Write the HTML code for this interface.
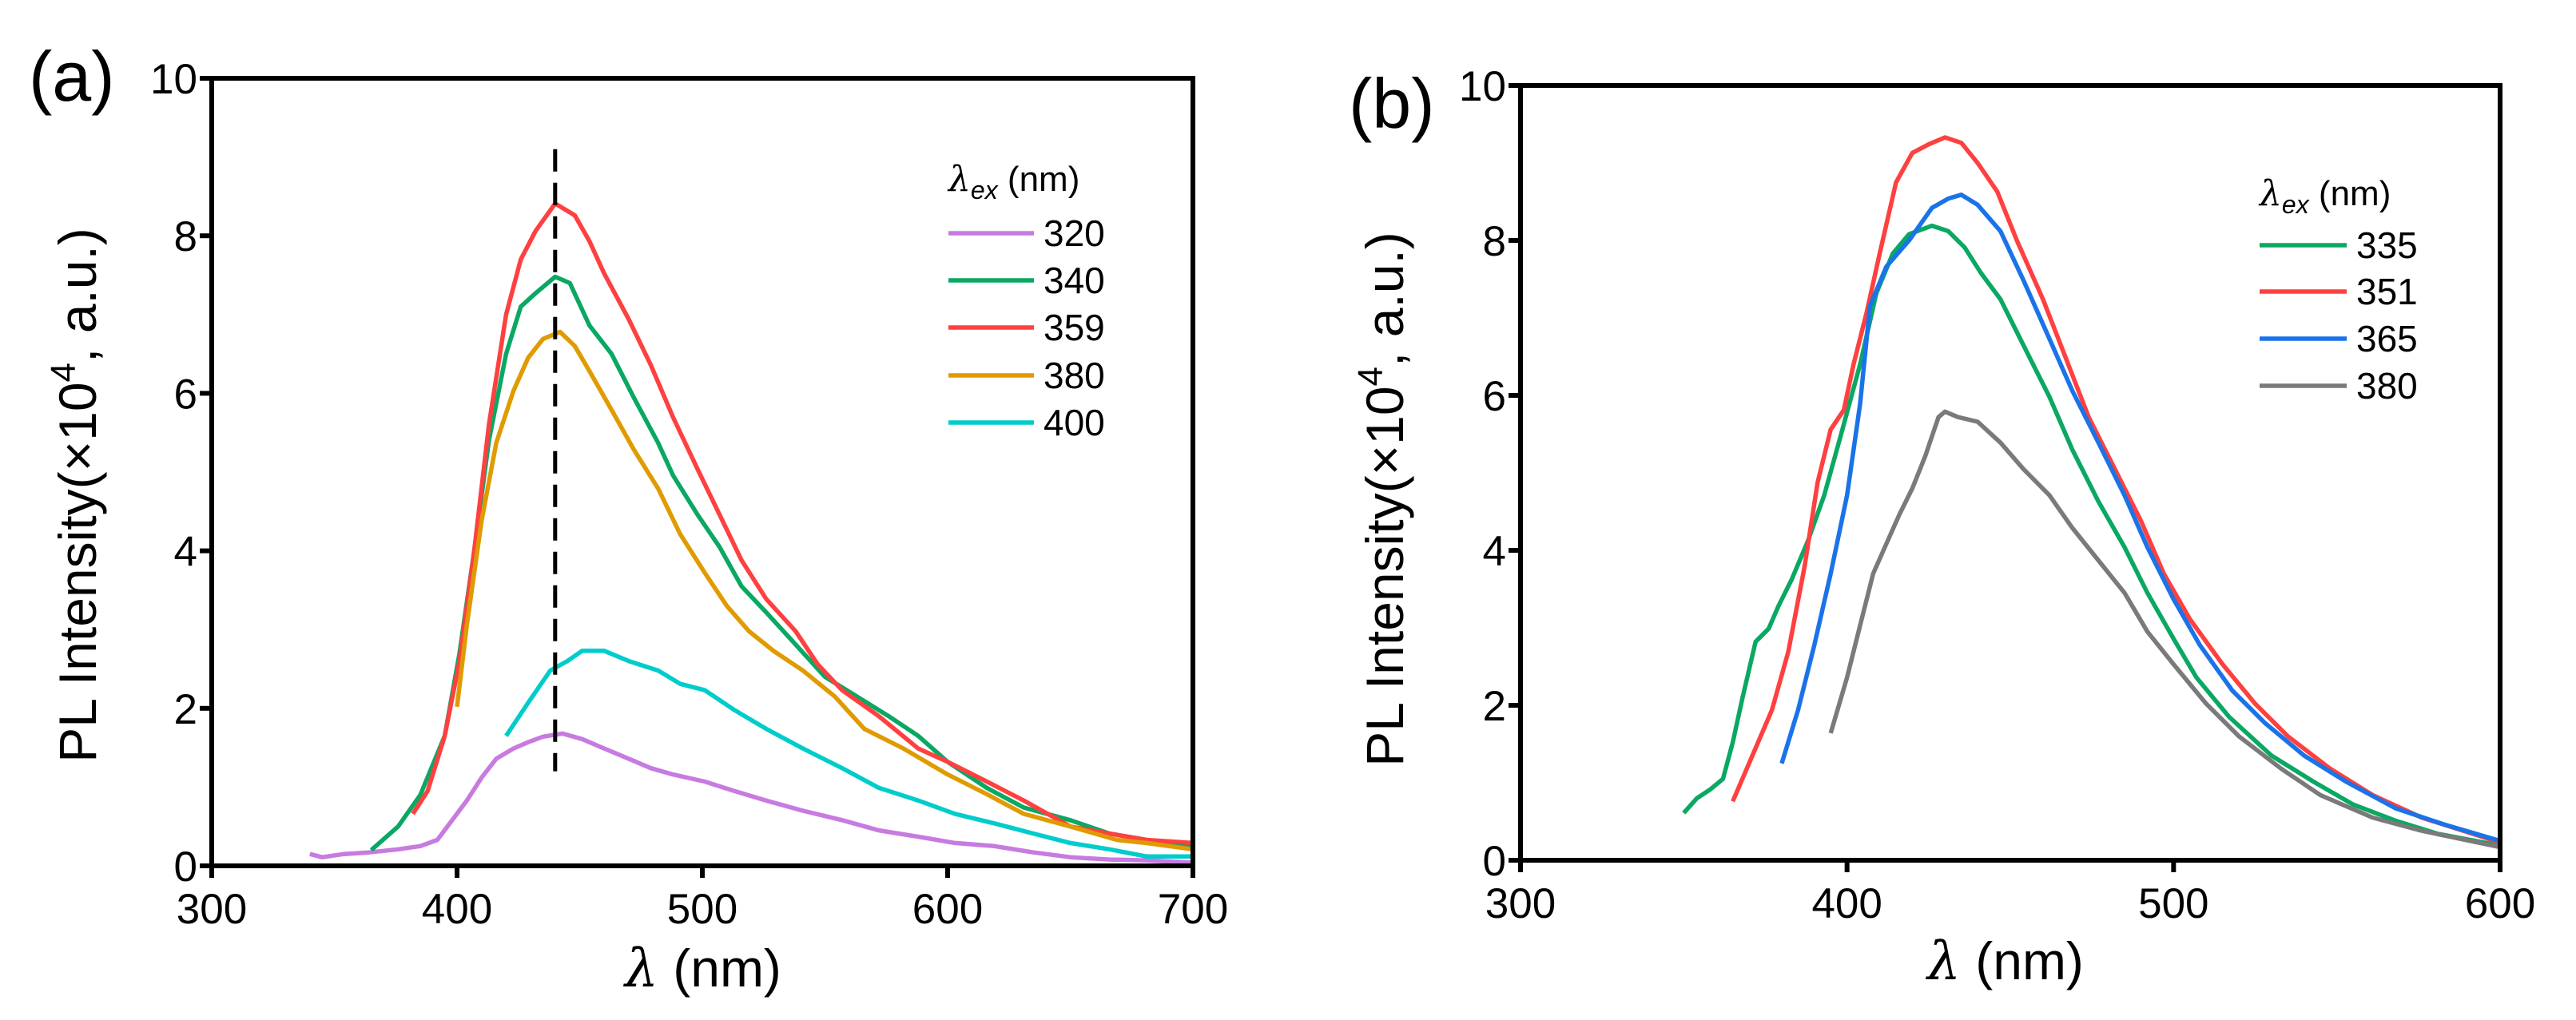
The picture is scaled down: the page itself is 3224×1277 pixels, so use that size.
<!DOCTYPE html>
<html><head><meta charset="utf-8"><style>
body{margin:0;background:#fff}
svg{display:block;font-family:"Liberation Sans",Arial,sans-serif}
</style></head><body>
<svg id="chart" width="3224" height="1277" viewBox="0 0 3224 1277" xmlns="http://www.w3.org/2000/svg"></svg>
<script>
// Panel (a) data
const aX320=[340,345,354,364,376,385,392,398,404,410,416,423,429,435,443,451,460,470,479,488,501,513,526,541,557,572,588,603,619,635,650,666,681,700];
const aY320=[0.15,0.11,0.15,0.17,0.21,0.25,0.33,0.58,0.83,1.12,1.36,1.49,1.57,1.64,1.68,1.61,1.49,1.36,1.24,1.16,1.07,0.95,0.83,0.7,0.58,0.45,0.37,0.29,0.25,0.17,0.11,0.08,0.07,0.04];
const aX340=[365,376,385,395,401,407,413,420,426,432,440,446,454,463,472,482,488,498,507,516,526,538,550,563,576,588,600,616,631,650,666,681,700];
const aY340=[0.2,0.5,0.9,1.65,2.7,4.0,5.4,6.5,7.1,7.27,7.48,7.4,6.86,6.5,5.95,5.37,4.96,4.46,4.05,3.55,3.22,2.81,2.4,2.15,1.9,1.65,1.32,0.99,0.74,0.58,0.41,0.33,0.25];
const aX359=[382,388,395,401,407,413,420,426,432,440,448,454,460,470,479,488,498,507,516,526,538,547,557,572,588,600,616,631,650,666,681,700];
const aY359=[0.66,0.95,1.65,2.6,4.0,5.6,7.0,7.7,8.06,8.41,8.26,7.93,7.52,6.94,6.36,5.7,5.04,4.46,3.88,3.39,2.98,2.56,2.23,1.9,1.49,1.32,1.07,0.83,0.5,0.41,0.33,0.29];
const aX380=[400,404,410,416,423,429,435,442,448,454,463,472,482,491,501,510,519,529,541,554,566,582,600,616,631,650,669,681,700];
const aY380=[2.02,3.06,4.38,5.37,6.03,6.45,6.69,6.78,6.6,6.28,5.79,5.29,4.79,4.21,3.72,3.3,2.98,2.73,2.48,2.15,1.74,1.49,1.16,0.91,0.66,0.5,0.33,0.29,0.21];
const aX400=[420,429,438,445,451,460,470,482,491,501,513,526,541,557,572,588,603,619,635,650,666,681,700];
const aY400=[1.65,2.07,2.48,2.6,2.73,2.73,2.6,2.48,2.31,2.23,1.98,1.74,1.49,1.24,0.99,0.83,0.66,0.54,0.41,0.29,0.21,0.12,0.12];
// Panel (b) data
const bX335=[350,354,358,362,365,368,372,376,379,383,388,393,398,404,409,414,419,426,431,436,441,447,454,462,469,477,485,492,500,507,517,530,543,555,568,581,600];
const bY335=[0.61,0.8,0.91,1.05,1.52,2.1,2.82,2.99,3.28,3.62,4.12,4.71,5.47,6.4,7.32,7.83,8.08,8.19,8.12,7.91,7.58,7.24,6.65,5.98,5.3,4.63,4.04,3.45,2.86,2.36,1.85,1.35,1.01,0.72,0.51,0.34,0.19];
const bX351=[365,371,377,382,387,391,395,399,402,406,410,415,420,425,430,435,440,446,452,460,467,474,482,490,497,505,515,525,535,548,561,576,600];
const bY351=[0.76,1.35,1.94,2.69,3.79,4.88,5.56,5.81,6.4,7.07,7.83,8.75,9.13,9.24,9.33,9.26,9.0,8.63,8.0,7.24,6.48,5.72,5.05,4.38,3.7,3.11,2.53,2.02,1.6,1.18,0.84,0.55,0.23];
const bX365=[380,385,390,395,400,404,407,412,419,426,431,435,440,447,454,462,469,477,485,492,500,508,518,528,540,553,568,583,600];
const bY365=[1.25,1.94,2.78,3.7,4.71,5.89,7.15,7.66,8.0,8.42,8.54,8.59,8.46,8.12,7.49,6.73,6.06,5.39,4.71,4.04,3.37,2.78,2.19,1.77,1.35,1.01,0.67,0.46,0.25];
const bX380=[395,400,404,408,412,416,420,424,428,430,434,440,447,454,462,469,477,485,492,500,510,520,533,545,561,576,600];
const bY380=[1.64,2.36,3.03,3.7,4.08,4.46,4.8,5.22,5.72,5.79,5.72,5.66,5.39,5.05,4.71,4.29,3.87,3.45,2.95,2.53,2.02,1.6,1.18,0.84,0.55,0.38,0.17];
const aXTicks=[300,400,500,600,700];
const bXTicks=[300,400,500,600];
const yTicks=[0,2,4,6,8,10];
const aLegend=["320","340","359","380","400"];
const bLegend=["335","351","365","380"];

const NS="http://www.w3.org/2000/svg";
const svg=document.getElementById('chart');
function mk(tag,attrs,parent,text){const e=document.createElementNS(NS,tag);for(const k in attrs)e.setAttribute(k,attrs[k]);if(text!==undefined)e.textContent=text;(parent||svg).appendChild(e);return e;}

function panel(cfg){
  const g=mk('g',{});
  
  
  const sx=v=>cfg.x0+(v-cfg.xmin)/(cfg.xmax-cfg.xmin)*(cfg.x1-cfg.x0);
  const sy=v=>cfg.y1-(v-0)/10*(cfg.y1-cfg.y0);
  // series
  cfg.series.forEach(s=>{
    const d=s.x.map((v,i)=>(i?'L':'M')+sx(v).toFixed(1)+' '+sy(s.y[i]).toFixed(1)).join(' ');
    const p=mk('path',{d:d,fill:'none',stroke:s.c,'stroke-width':5.5,'stroke-linejoin':'round'},g);
    
    
  });
  if(cfg.dash){const l=mk('line',{x1:sx(cfg.dash),x2:sx(cfg.dash),y1:sy(9.1),y2:sy(1.2),stroke:'#000','stroke-width':5,'stroke-dasharray':'28,14'},g);
    
    }
  // axes frame
  const fr=mk('rect',{x:cfg.x0,y:cfg.y0,width:cfg.x1-cfg.x0,height:cfg.y1-cfg.y0,fill:'none',stroke:'#000','stroke-width':6},g);
  
  
  cfg.xt.forEach(t=>{
    mk('line',{x1:sx(t),x2:sx(t),y1:cfg.y1,y2:cfg.y1+15,stroke:'#000','stroke-width':6},g);
    const tx=mk('text',{x:sx(t),y:cfg.y1+72,'font-size':53,'text-anchor':'middle'},g,String(t));
    
    
  });
  yTicks.forEach(t=>{
    mk('line',{x1:cfg.x0-15,x2:cfg.x0,y1:sy(t),y2:sy(t),stroke:'#000','stroke-width':6},g);
    const tx=mk('text',{x:cfg.x0-18,y:sy(t)+19,'font-size':53,'text-anchor':'end'},g,String(t));
    
    
  });
  const xt=mk('text',{x:cfg.xtx,y:cfg.xty,'font-size':66,'text-anchor':'middle'},g);
  
  
  mk('tspan',{'font-style':'italic','font-family':'DejaVu Serif, serif'},xt,'λ');
  mk('tspan',{},xt,' (nm)');
  const yt=mk('text',{x:0,y:0,'font-size':66,'text-anchor':'middle',transform:`translate(${cfg.ytx},${cfg.yty}) rotate(-90)`},g);
  
  
  mk('tspan',{},yt,'PL Intensity(×10');
  mk('tspan',{'font-size':44,dy:-26},yt,'4');
  mk('tspan',{dy:26},yt,', a.u.)');
  const lb=mk('text',{x:cfg.lbx,y:cfg.lby,'font-size':88},g,cfg.label);
  
  
  // legend
  const lg=mk('g',{},g);
  
  
  const lt=mk('text',{x:cfg.legX,y:cfg.legTitleY+15,'font-size':44},lg);
  mk('tspan',{'font-style':'italic','font-family':'DejaVu Serif, serif'},lt,'λ');
  mk('tspan',{'font-style':'italic','font-size':32,dy:10},lt,'ex');
  mk('tspan',{dy:-10},lt,' (nm)');
  cfg.series.forEach((s,i)=>{
    const y=cfg.legRows[i];
    const e=mk('g',{},lg);
    
    
    mk('line',{x1:cfg.legX,x2:cfg.legX+cfg.legW,y1:y,y2:y,stroke:s.c,'stroke-width':5.5},e);
    mk('text',{x:cfg.legX+cfg.legW+12,y:y+16,'font-size':46},e,s.label);
  });
}

panel({name:'panel-a',x0:265,x1:1493,y0:98,y1:1084,xmin:300,xmax:700,xt:aXTicks,dash:440,
  xtx:880,xty:1235,ytx:120,yty:620,lbx:36,lby:126,label:'(a)',
  legX:1187,legW:107,legTitleY:224,legRows:[292,351,410,470,529],
  series:[{label:aLegend[0],x:aX320,y:aY320,c:'#c77be0'},{label:aLegend[1],x:aX340,y:aY340,c:'#0aa862'},
          {label:aLegend[2],x:aX359,y:aY359,c:'#ff4040'},{label:aLegend[3],x:aX380,y:aY380,c:'#e09b00'},
          {label:aLegend[4],x:aX400,y:aY400,c:'#00cccc'}]});
panel({name:'panel-b',x0:1903,x1:3129,y0:107,y1:1077,xmin:300,xmax:600,xt:bXTicks,
  xtx:2510,xty:1226,ytx:1756,yty:625,lbx:1688,lby:160,label:'(b)',
  legX:2828,legW:109,legTitleY:242,legRows:[307,365,424,483],
  series:[{label:bLegend[0],x:bX335,y:bY335,c:'#0aa862'},{label:bLegend[1],x:bX351,y:bY351,c:'#ff4040'},
          {label:bLegend[2],x:bX365,y:bY365,c:'#1a73e8'},{label:bLegend[3],x:bX380,y:bY380,c:'#7a7a7a'}]});
</script>
</body></html>
